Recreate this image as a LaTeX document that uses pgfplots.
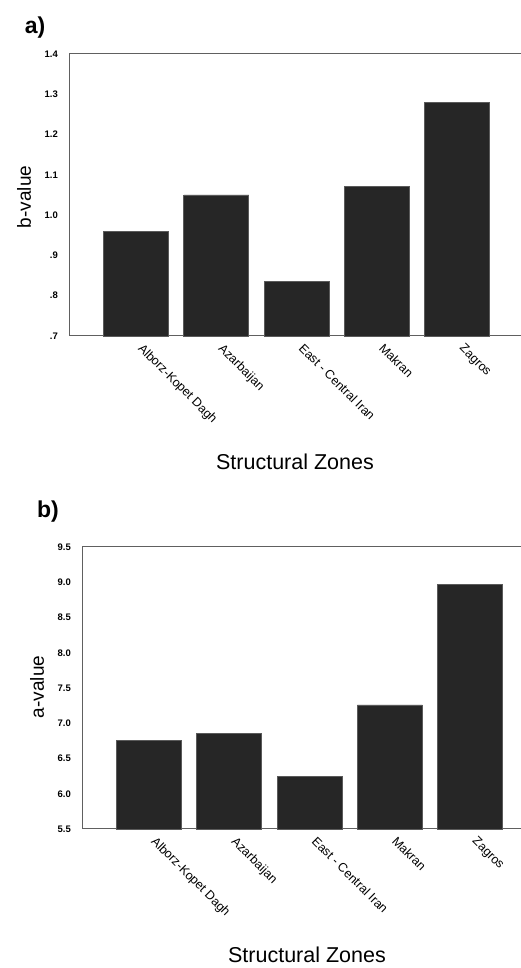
\documentclass[border=0pt]{standalone}
\usepackage{pgfplots}
\pgfplotsset{compat=1.18}
\usepackage{fontspec}
\setmainfont{Liberation Sans}
\definecolor{barfill}{HTML}{262626}
\definecolor{baredge}{HTML}{5A5A5A}
\definecolor{axisgray}{HTML}{606060}
\pgfplotsset{
  zonestyle/.style={
    scale only axis,
    anchor=south west,
    height=282pt,
    axis x line*=box,
    axis y line*=left,
    axis line style={axisgray, line width=1pt},
    major tick length=0pt,
    ybar,
    bar width=65pt,
    xtick={0,1,2,3,4},
    xticklabels={Alborz-Kopet Dagh,Azarbaijan,East - Central Iran,Makran,Zagros},
    xticklabel style={xshift=8pt, yshift=-6.5pt, rotate=-45, anchor=north west, font=\fontsize{12.5}{14}\selectfont, inner sep=0pt},
    yticklabel style={font=\fontsize{9.5}{11}\selectfont\bfseries, inner sep=0pt, xshift=-11pt},
    /pgf/number format/assume math mode=true,
    xlabel={Structural Zones},
    xlabel style={font=\fontsize{21.5}{24}\selectfont, anchor=center},
    ylabel style={font=\fontsize{19}{22}\selectfont, anchor=center, rotate=0},
    clip=false,
  },
}
\begin{document}
\begin{tikzpicture}
\useasboundingbox (0,0) rectangle (521pt,968pt);
% panel a
\node[font=\fontsize{23}{26}\selectfont\bfseries] at (35pt,940pt) {a)};
\begin{axis}[zonestyle,
  at={(69pt,632pt)},
  width=452pt,
  xmin=-0.834, xmax=4.795,
  ymin=0.7, ymax=1.4,
  ytick={0.7,0.8,0.9,1.0,1.1,1.2,1.3,1.4},
  yticklabels={.7,.8,.9,1.0,1.1,1.2,1.3,1.4},
  ylabel={b-value},
  xlabel style={at={(axis description cs:0.5,-0.447)}},
  ylabel style={at={(axis description cs:-0.0996,0.493)}},
]
\addplot[fill=barfill, draw=baredge, line width=0.8pt] coordinates {
(0,0.96) (1,1.05) (2,0.836) (3,1.072) (4,1.28)};
\end{axis}
% panel b
\node[font=\fontsize{23}{26}\selectfont\bfseries] at (48pt,456pt) {b)};
\begin{axis}[zonestyle,
  at={(82pt,139pt)},
  width=439pt,
  xmin=-0.835, xmax=4.635,
  ymin=5.5, ymax=9.5,
  ytick={5.5,6.0,6.5,7.0,7.5,8.0,8.5,9.0,9.5},
  yticklabels={5.5,6.0,6.5,7.0,7.5,8.0,8.5,9.0,9.5},
  ylabel={a-value},
  xlabel style={at={(axis description cs:0.5125,-0.447)}},
  ylabel style={at={(axis description cs:-0.1025,0.5035)}},
]
\addplot[fill=barfill, draw=baredge, line width=0.8pt] coordinates {
(0,6.76) (1,6.85) (2,6.25) (3,7.26) (4,8.97)};
\end{axis}
\end{tikzpicture}
\end{document}
